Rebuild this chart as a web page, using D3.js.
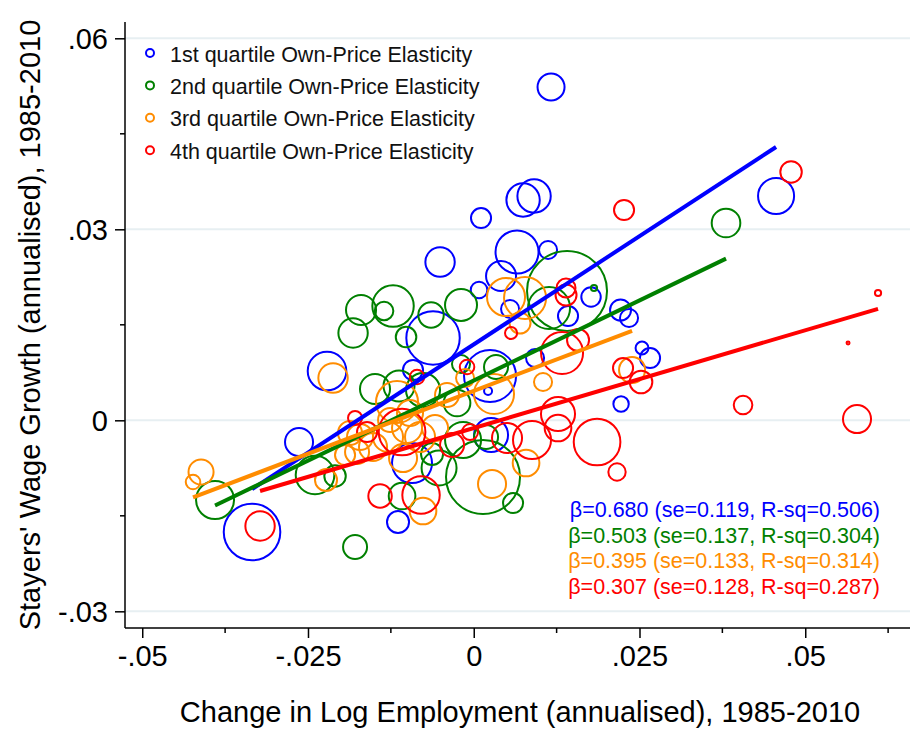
<!DOCTYPE html>
<html><head><meta charset="utf-8">
<script src="https://cdn.jsdelivr.net/npm/d3@7/dist/d3.min.js"></script>
<style>
body{margin:0;background:#fff}
svg{display:block}
text{font-family:"Liberation Sans",Arial,Helvetica,sans-serif}
</style>
</head><body>
<svg id="chart" width="910" height="729"></svg>
<script>
// ---------- data ----------
const seriesNames = ["1st quartile Own-Price Elasticity","2nd quartile Own-Price Elasticity","3rd quartile Own-Price Elasticity","4th quartile Own-Price Elasticity"];

const q1X = [0.01166,0.0011,0.00744,0.0091,0.0456,0.00653,0.01121,-0.00508,0.00412,0.0008,0.00548,-0.00614,0.01769,0.01422,0.02214,0.02342,0.02538,0.02659,0.00925,-0.00916,-0.02213,0.00246,0.00216,0.02222,-0.02635,0.00261,-0.00931,-0.01142,-0.03344];
const q1Y = [0.05235,0.03177,0.0346,0.03523,0.03523,0.02643,0.02675,0.02486,0.02266,0.02047,0.01748,0.01293,0.01937,0.01638,0.01732,0.01607,0.01136,0.00978,0.00978,0.0079,0.00774,0.00696,0.0046,0.00256,-0.00341,-0.00231,-0.00671,-0.01597,-0.01754];
const q1W = [11.4,6.3,17.4,17.4,20.3,28.9,5.1,13.5,14.1,4.3,5.1,44.6,5.9,6.3,6.9,5.1,2.6,6.3,5.1,6.3,23.3,42.3,1.0,3.7,12.3,18.1,25,7.6,50];

const q2X = [0.03805,0.01407,0.01136,0.01814,-0.017,-0.01217,-0.01353,-0.00192,-0.00644,-0.0182,-0.01021,-0.00192,0.00336,-0.01489,-0.01127,-0.00765,-0.00252,-0.00161,0.00186,-0.00629,-0.00523,0.0014,0.00593,-0.03902,-0.02394,-0.02092,-0.01081,-0.0179];
const q2Y = [0.03099,0.02031,0.01764,0.02078,0.01732,0.01795,0.01717,0.01811,0.01654,0.01371,0.01308,0.00884,0.00837,0.00492,0.00539,0.00476,0.00272,-0.00309,-0.00262,-0.00529,-0.00749,-0.0089,-0.01299,-0.01252,-0.00859,-0.00875,-0.01189,-0.0199];
const q2W = [12.8,100,27.6,0.6,14.1,26.8,5.4,16,10.1,13.5,6.6,5.1,9,14.1,15,18.1,11.1,20.3,9,7.6,19.1,85.6,6.3,22.6,23.3,7.2,11.1,9];

const q3X = [-0.04113,-0.04234,-0.02228,-0.02122,0.00487,0.00774,0.00698,-0.00131,-0.01157,-0.00403,0.00306,0.01045,0.02388,-0.01866,-0.01715,-0.01519,-0.0176,-0.01941,-0.01293,-0.01262,-0.00961,-0.01006,-0.0081,-0.00584,-0.01066,-0.00765,0.00789,0.00276];
const q3Y = [-0.00812,-0.00969,-0.00938,0.00664,0.01937,0.01921,0.01528,0.00664,0.00287,0.00397,0.00413,0.00602,0.0079,-0.002,-0.00262,-0.00419,-0.00498,-0.00545,-0.00262,0.00005,0.00115,-0.00121,-0.00262,-0.00121,-0.00592,-0.01425,-0.00671,-0.01];
const q3W = [9.8,3.3,7.6,13.5,22.6,27.6,6.9,5.1,27.6,9,25,5.1,10.6,9,10.6,12.3,9,6.3,14.1,9,10.6,14.1,14.1,10.6,12.3,11.1,11.1,12.3];

const q4X = [0.04786,0.02267,0.01392,0.01392,0.00563,0.01573,0.01332,-0.00101,-0.00855,0.02252,0.02523,0.04062,0.05781,0.06098,0.05646,0.01271,0.01271,0.0186,0.02161,0.00879,0.00502,-0.0179,-0.01609,-0.01081,-0.00327,-0.00056,-0.01413,-0.00795,-0.03223];
const q4Y = [0.039,0.03303,0.02078,0.01968,0.01371,0.01261,0.01057,0.00837,0.0068,0.00821,0.00602,0.0024,0.0002,0.02,0.01214,0.00099,-0.00121,-0.00341,-0.00812,-0.00309,-0.00278,0.00036,-0.00184,-0.00184,-0.00388,-0.00184,-0.01189,-0.01173,-0.0166];
const q4W = [7.2,6.3,5.6,6.9,2.3,7.6,27.6,3.3,3.3,6.3,8,5.4,12.3,0.6,0.14,18.1,11.1,34,4.7,22.6,14.1,3.1,6.3,34,9,4,8.6,21.9,13.5];

// fitted lines
const fitSlope = [0.680,0.503,0.395,0.307];
const fitIntercept = [0.01192,0.00625,0.00462,-0.00121];
const fitXmin = [-0.03344,-0.03902,-0.04234,-0.03223];
const fitXmax = [0.0456,0.03805,0.02388,0.06098];

const statLabels = ["β=0.680 (se=0.119, R-sq=0.506)","β=0.503 (se=0.137, R-sq=0.304)","β=0.395 (se=0.133, R-sq=0.314)","β=0.307 (se=0.128, R-sq=0.287)"];

const xMajorTicks = [-0.05,-0.025,0,0.025,0.05];
const xMajorLabels = ["-.05","-.025","0",".025",".05"];
const xMinorTicks = [-0.0375,-0.0125,0.0125,0.0375,0.0625];
const yMajorTicks = [-0.03,0,0.03,0.06];
const yMajorLabels = ["-.03","0",".03",".06"];
const yMinorTicks = [-0.015,0.015,0.045];

const xTitle = "Change in Log Employment (annualised), 1985-2010";
const yTitle = "Stayers' Wage Growth (annualised), 1985-2010";

// ---------- styles ----------
const colors = ["#0000ff","#008000","#ff8c00","#ff0000"];
const FONT = 29;

// ---------- drawing ----------
const svg = d3.select("#chart");
const L = 125, R = 910, T = 22, B = 628;
const x = d3.scaleLinear().domain([-0.0526, 0.0658]).range([L, R]);
const y = d3.scaleLinear().domain([-0.03262, 0.06256]).range([B, T]);
const r = d3.scaleSqrt().domain([0, 100]).range([0, 40]);

// gridlines
svg.append("g").selectAll("line").data(yMajorTicks).join("line")
  .attr("x1", L).attr("x2", R)
  .attr("y1", d => y(d)).attr("y2", d => y(d))
  .attr("stroke", "#e7eff2").attr("stroke-width", 2);

// circles
const groupsData = [[q1X,q1Y,q1W],[q2X,q2Y,q2W],[q3X,q3Y,q3W],[q4X,q4Y,q4W]];
groupsData.forEach((g, gi) => {
  const pts = g[0].map((v, i) => ({x: v, y: g[1][i], w: g[2][i]}));
  svg.append("g").selectAll("circle").data(pts).join("circle")
    .attr("cx", d => x(d.x)).attr("cy", d => y(d.y)).attr("r", d => r(d.w))
    .attr("fill", "none").attr("stroke", colors[gi]).attr("stroke-width", 2);
});

// fitted lines
fitSlope.forEach((b, i) => {
  const a = fitIntercept[i];
  svg.append("line")
    .attr("x1", x(fitXmin[i])).attr("y1", y(a + b * fitXmin[i]))
    .attr("x2", x(fitXmax[i])).attr("y2", y(a + b * fitXmax[i]))
    .attr("stroke", colors[i]).attr("stroke-width", 4);
});

// axes
const xAxis = svg.append("g").attr("transform", `translate(0,${B})`);
xAxis.call(d3.axisBottom(x).tickValues(xMajorTicks).tickSize(10).tickPadding(6)
  .tickFormat((d, i) => xMajorLabels[i]));
xAxis.call(g => g.append("g").selectAll("line").data(xMinorTicks).join("line")
  .attr("x1", d => x(d)).attr("x2", d => x(d)).attr("y1", 0).attr("y2", 5).attr("stroke", "#000").attr("stroke-width", 1.5));
const yAxis = svg.append("g").attr("transform", `translate(${L},0)`);
yAxis.call(d3.axisLeft(y).tickValues(yMajorTicks).tickSize(10).tickPadding(6)
  .tickFormat((d, i) => yMajorLabels[i]));
yAxis.call(g => g.append("g").selectAll("line").data(yMinorTicks).join("line")
  .attr("x1", 0).attr("x2", -5).attr("y1", d => y(d)).attr("y2", d => y(d)).attr("stroke", "#000").attr("stroke-width", 1.5));
[xAxis, yAxis].forEach(g => {
  g.select(".domain").attr("stroke", "#000").attr("stroke-width", 1.5)
   .attr("d", g === xAxis ? `M${L},0H${R}` : `M0,${T}V${B}`);
  g.selectAll(".tick line").attr("stroke", "#000").attr("stroke-width", 1.5);
  g.selectAll(".tick text").attr("fill", "#000").style("font-size", FONT + "px")
   .style("font-family", '"Liberation Sans",Arial,sans-serif');
});
xAxis.selectAll(".tick text").attr("dy", null).attr("y", 38);
yAxis.selectAll(".tick text").attr("x", -17).attr("dy", "0.36em");

// axis titles
svg.append("text").attr("x", 520).attr("y", 722).attr("text-anchor", "middle")
  .style("font-size", FONT + "px").attr("fill", "#000").text(xTitle);
svg.append("text").attr("transform", `translate(39.5,${(T + B) / 2}) rotate(-90)`)
  .attr("text-anchor", "middle").style("font-size", FONT + "px").attr("fill", "#000").text(yTitle);

// legend
const leg = svg.append("g");
seriesNames.forEach((s, i) => {
  const yy = 53 + i * 32.4;
  leg.append("circle").attr("cx", 150).attr("cy", yy).attr("r", 4)
    .attr("fill", "none").attr("stroke", colors[i]).attr("stroke-width", 2);
  leg.append("text").attr("x", 170).attr("y", yy + 8.5).style("font-size", "21.5px")
    .attr("fill", "#111").text(s);
});

// stats
statLabels.forEach((s, i) => {
  svg.append("text").attr("x", 880).attr("y", 517 + i * 25.5).attr("text-anchor", "end")
    .style("font-size", "21.5px").attr("fill", colors[i]).text(s);
});
</script>
</body></html>
